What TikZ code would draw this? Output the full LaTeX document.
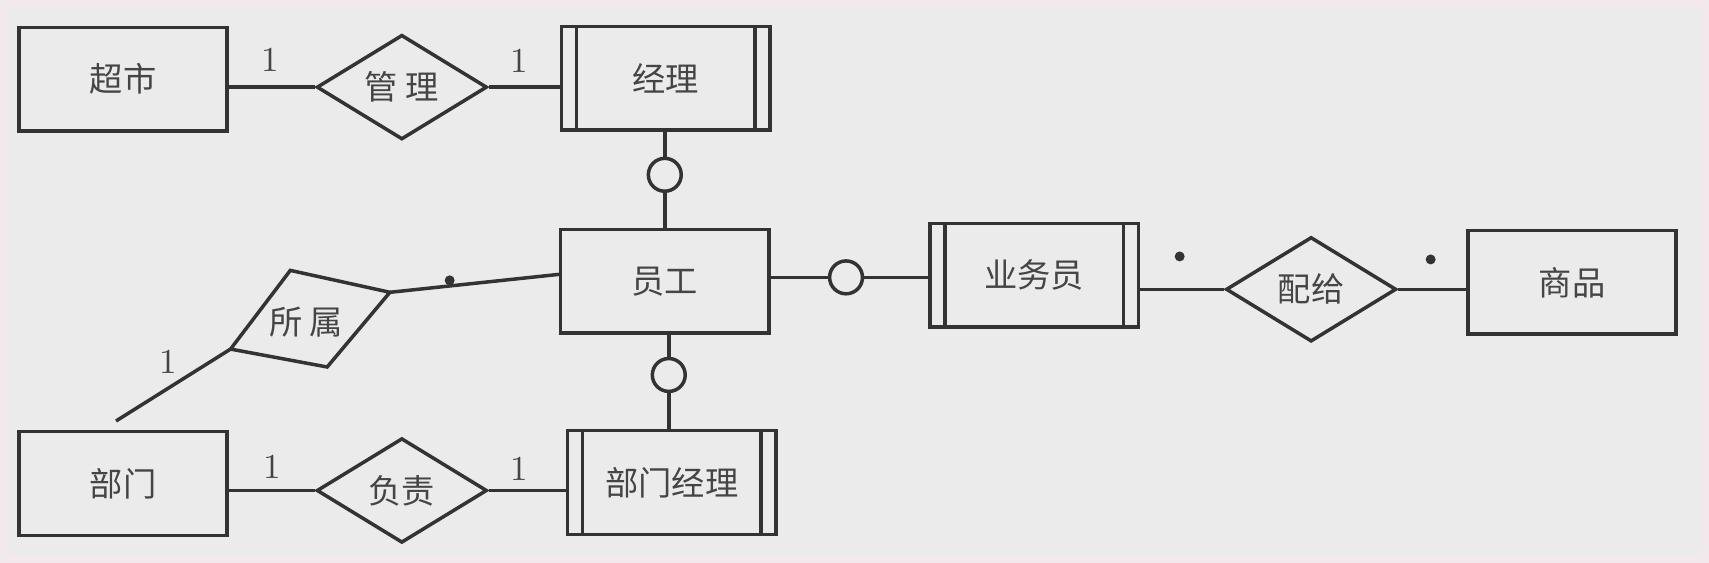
\documentclass[tikz,border=0pt]{standalone}
\usepackage{fontspec}
\newfontfamily\cjk{Noto Sans CJK SC}
\usetikzlibrary{shapes.geometric}
\definecolor{bg}{HTML}{EBEBEB}
\definecolor{edge}{HTML}{F3E8EC}
\definecolor{ln}{HTML}{333333}
\definecolor{tx}{HTML}{454545}
\tikzset{
  ent/.style={draw=ln, line width=1pt, rectangle, minimum width=2.09cm, minimum height=1.04cm,
    inner sep=0pt, font=\cjk\fontsize{9.5}{11}\selectfont, text=tx},
  went/.style={ent, path picture={
    \draw[ln, line width=1pt] ([xshift=0.15cm]path picture bounding box.north west) -- ([xshift=0.15cm]path picture bounding box.south west);
    \draw[ln, line width=1pt] ([xshift=-0.15cm]path picture bounding box.north east) -- ([xshift=-0.15cm]path picture bounding box.south east);}},
  rel/.style={draw=ln, line width=1pt, diamond, aspect=1.63, minimum width=1.71cm, minimum height=1.05cm,
    inner sep=0pt, font=\cjk\fontsize{9.5}{11}\selectfont, text=tx},
  ring/.style={draw=ln, line width=1pt, circle, minimum size=0.33cm, inner sep=0pt},
  conn/.style={draw=ln, line width=1pt},
  lab/.style={font=\fontsize{10}{12}\selectfont, text=tx, inner sep=0pt},
  dotm/.style={fill=ln, circle, minimum size=0.1cm, inner sep=0pt},
  cjktext/.style={font=\cjk\fontsize{9.5}{11}\selectfont, text=tx, inner sep=0pt}
}
\begin{document}
\begin{tikzpicture}[x=0.01cm, y=-0.01cm]
\fill[bg] (0,0) rectangle (1709,558);
\draw[edge, line width=2pt] (0,0) rectangle (1709,558);
\useasboundingbox (0,0) rectangle (1709,558);

% entities
\node[ent]  (chaoshi)  at (120,76)  {超市};
\node[went] (jingli)   at (665,75)  {经理};
\node[ent]  (yuangong) at (664,279) {员工};
\node[went] (yewu)     at (1035,273) {业务员};
\node[ent]  (shangpin) at (1575,280) {商品};
\node[ent]  (bumen)    at (120,482) {部门};
\node[went] (bmjl)     at (671,481) {部门经理};

% relationships
\node[rel] (guanli) at (400,84)  {管 理};
\node[rel] (fuze)   at (400,489) {负责};
\node[rel] (peiji)  at (1313,287) {配给};

% skewed relationship 所属
\coordinate (sT) at (288,268);
\coordinate (sR) at (388,290);
\coordinate (sB) at (325,365);
\coordinate (sL) at (228,347);
\draw[conn] (sT) -- (sR) -- (sB) -- (sL) -- cycle;
\node[cjktext] (suoshu) at (304,320) {所 属};

% rings
\node[ring] (c1) at (664,172) {};
\node[ring] (c2) at (668,373) {};
\node[ring] (c3) at (846,275) {};

% connectors
\draw[conn] (chaoshi.east |- guanli) -- (guanli.west);
\draw[conn] (guanli.east) -- (guanli -| jingli.west);
\draw[conn] (bumen.east |- fuze) -- (fuze.west);
\draw[conn] (fuze.east) -- (fuze -| bmjl.west);
\draw[conn] (jingli.south -| c1) -- (c1.north);
\draw[conn] (c1.south) -- (c1 |- yuangong.north);
\draw[conn] (yuangong.south -| c2) -- (c2.north);
\draw[conn] (c2.south) -- (c2 |- bmjl.north);
\draw[conn] (yuangong.east |- c3) -- (c3.west);
\draw[conn] (c3.east) -- (c3 -| yewu.west);
\draw[conn] (yewu.east |- peiji) -- (peiji.west);
\draw[conn] (peiji.east) -- (peiji -| shangpin.west);
\draw[conn] (sR) -- ([yshift=0.07cm]yuangong.west);
\draw[conn] (sL) -- ([xshift=-0.07cm, yshift=0.09cm]bumen.north);

% cardinality labels
\node[lab] (l1) at (268,57)  {1};
\node[lab] (l2) at (518,58)  {1};
\node[lab] (l3) at (270,465) {1};
\node[lab] (l4) at (518,467) {1};
\node[lab] (l5) at (165,360) {1};
\node[dotm] (d1) at (448,278) {};
\node[dotm] (d2) at (1181,254) {};
\node[dotm] (d3) at (1433,257) {};
\end{tikzpicture}
\end{document}
